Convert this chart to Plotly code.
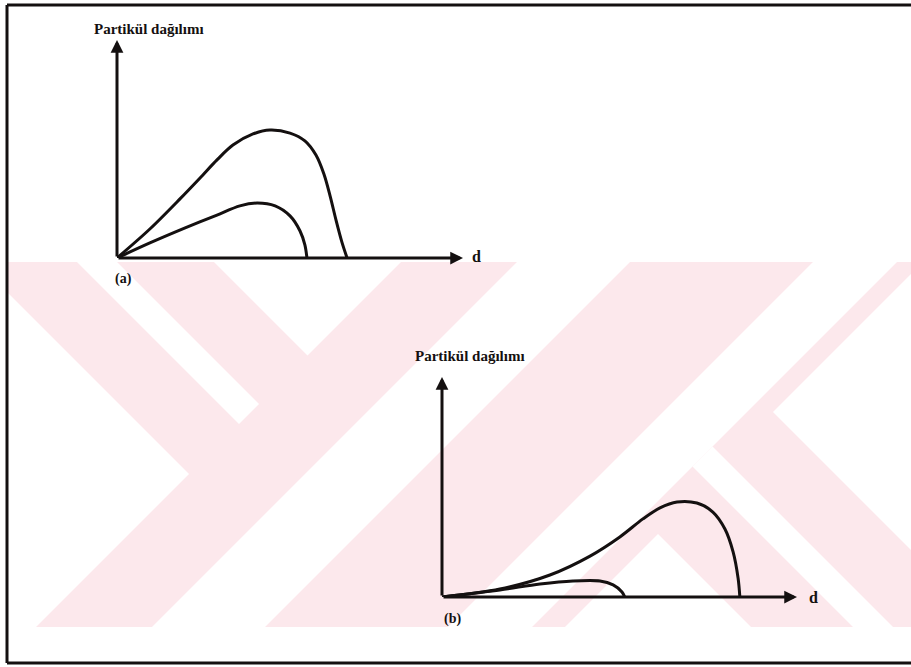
import plotly.graph_objects as go

W, H = 911, 667

# ---- data (arbitrary units: d on x, particle distribution on y) ----
a_outer_d = [0, 0.95, 1.82, 2.40, 2.89, 3.35, 3.93, 4.42, 5.0, 5.43, 5.75, 5.98, 6.16, 6.33, 6.50, 6.65]
a_outer_y = [0, 1.33, 2.71, 3.67, 4.50, 5.18, 5.69, 5.87, 5.73, 5.37, 4.72, 3.85, 2.84, 1.74, 0.73, 0]
a_inner_d = [0, 0.95, 1.97, 2.89, 3.55, 4.05, 4.57, 5.0, 5.29, 5.43, 5.49]
a_inner_y = [0, 0.69, 1.38, 1.97, 2.39, 2.52, 2.39, 1.93, 1.24, 0.60, 0]

b_outer_d = [0, 1.63, 3.04, 4.17, 5.01, 5.66, 6.14, 6.62, 7.18, 7.63, 7.97, 8.2, 8.34, 8.39]
b_outer_y = [0, 0.36, 1.00, 1.86, 2.73, 3.55, 4.05, 4.32, 4.27, 3.86, 3.09, 2.05, 0.86, 0]
b_inner_d = [0, 1.63, 2.76, 3.69, 4.45, 4.82, 5.07, 5.15]
b_inner_y = [0, 0.32, 0.59, 0.73, 0.73, 0.55, 0.23, 0]

y_label = "Partikül dağılımı"
x_label = "d"
panel_labels = ["(a)", "(b)"]

INK = "#141010"
PINK = "#fce8ec"
FONT = "Liberation Serif"


def px(x):
    return x / W


def py(y):
    return 1 - y / H


fig = go.Figure()

# panel (a) on x/y, panel (b) on x2/y2
for xs, ys, ax in [(a_outer_d, a_outer_y, ("x", "y")), (a_inner_d, a_inner_y, ("x", "y")),
                   (b_outer_d, b_outer_y, ("x2", "y2")), (b_inner_d, b_inner_y, ("x2", "y2"))]:
    fig.add_trace(go.Scatter(x=xs, y=ys, mode="lines", xaxis=ax[0], yaxis=ax[1],
                             line=dict(color=INK, width=3, shape="spline", smoothing=0.9),
                             hoverinfo="skip", showlegend=False))

axis_common = dict(visible=False, range=[0, 10], fixedrange=True)
fig.update_layout(
    width=W, height=H,
    margin=dict(l=0, r=0, t=0, b=0),
    paper_bgcolor="white", plot_bgcolor="rgba(0,0,0,0)",
    xaxis=dict(domain=[px(117), px(463)], anchor="y", **axis_common),
    yaxis=dict(domain=[py(258), py(40)], anchor="x", **axis_common),
    xaxis2=dict(domain=[px(442), px(797)], anchor="y2", **axis_common),
    yaxis2=dict(domain=[py(597), py(377)], anchor="x2", **axis_common),
    showlegend=False,
)

# ---- watermark (light pink band with white cut-outs) ----
def poly(pts, color):
    path = "M " + " L ".join(f"{px(x)},{py(y)}" for x, y in pts) + " Z"
    fig.add_shape(type="path", path=path, xref="paper", yref="paper",
                  fillcolor=color, line=dict(width=0), layer="below")

poly([(7, 262), (911, 262), (911, 627), (7, 627)], PINK)
poly([(7, 292), (189, 474), (36, 627), (7, 627)], "white")
poly([(77, 262), (117, 262), (259, 404), (239, 424)], "white")
poly([(214, 262), (401, 262), (307.5, 355.5)], "white")
poly([(517, 262), (630, 262), (265, 627), (152, 627)], "white")
poly([(813, 262), (897, 262), (532, 627), (448, 627)], "white")
poly([(658, 534), (565, 627), (751, 627)], "white")
poly([(692.5, 466.5), (712.5, 446.5), (893, 627), (853, 627)], "white")
poly([(773, 412), (911, 274), (911, 550)], "white")

# ---- frame (left, top, bottom) ----
for x0, y0, x1, y1 in [(7, 5, 911, 5), (7, 5, 7, 663), (7, 663, 911, 663)]:
    fig.add_shape(type="line", xref="paper", yref="paper",
                  x0=px(x0), y0=py(y0), x1=px(x1), y1=py(y1),
                  line=dict(color=INK, width=3))

# ---- axes with arrows ----
for xr, yr in [("x", "y"), ("x2", "y2")]:
    for tip in [(10, 0), (0, 10)]:
        fig.add_annotation(x=tip[0], y=tip[1], ax=0, ay=0, xref=xr, yref=yr,
                           axref=xr, ayref=yr, text="", showarrow=True,
                           arrowhead=2, arrowsize=0.85, arrowwidth=3,
                           arrowcolor=INK, standoff=0, startstandoff=0)

# ---- texts ----
def label(x, y, t, size=13):
    fig.add_annotation(x=px(x), y=py(y), xref="paper", yref="paper", text=f"<b>{t}</b>",
                       showarrow=False, xanchor="center", yanchor="middle",
                       font=dict(family=FONT, size=size, color=INK))

label(149, 29, y_label, 15)
label(470, 356, y_label, 15)
label(476, 256, x_label, 16)
label(813, 597, x_label, 16)
label(124, 279, panel_labels[0], 14)
label(452, 619, panel_labels[1], 14)

fig.write_html("out.html")
